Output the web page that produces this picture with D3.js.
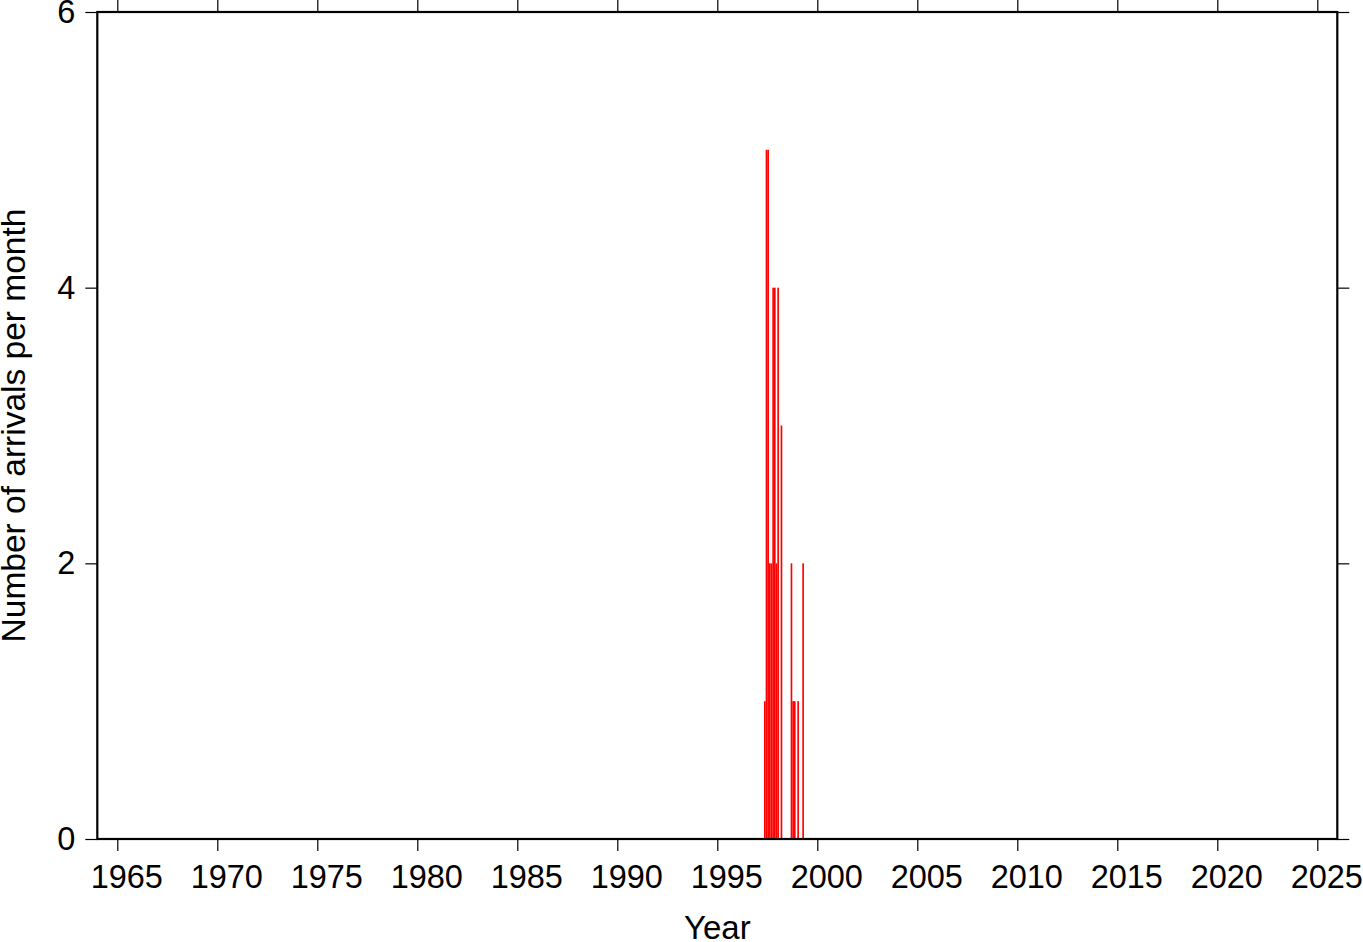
<!DOCTYPE html>
<html>
<head>
<meta charset="utf-8">
<script src="https://cdn.jsdelivr.net/npm/d3@7"></script>
<style>
  html, body { margin: 0; padding: 0; background: #fff; }
  svg { display: block; }
  text { font-family: "Liberation Sans", Arial, Helvetica, sans-serif; fill: #000; }
</style>
</head>
<body>
<svg id="chart" width="1363" height="942"></svg>
<script>
// ---- data ----
const months = ["1997-05","1997-06","1997-07","1997-08","1997-09","1997-10","1997-11","1997-12",
                "1998-01","1998-03","1998-09","1998-10","1998-11","1999-01","1999-04"];
const counts = [1,5,5,2,2,4,4,2,4,3,2,1,1,1,2];
const xTicks = [1965,1970,1975,1980,1985,1990,1995,2000,2005,2010,2015,2020,2025];
const yTicks = [0,2,4,6];
const xLabel = "Year";
const yLabel = "Number of arrivals per month";

// ---- layout ----
const mLeft = 97.3, mRight = 1337.3, mTop = 12, mBottom = 839;
const svg = d3.select("#chart");
const x = d3.scaleLinear().domain([1964, 2026]).range([mLeft, mRight]);
const y = d3.scaleLinear().domain([0, 6]).range([mBottom, mTop]);

const bars = months.map((m, i) => {
  const [yr, mo] = m.split("-").map(Number);
  return { t0: yr + (mo - 1) / 12, t1: yr + mo / 12, v: counts[i] };
});

svg.append("g").selectAll("rect").data(bars).join("rect")
  .attr("x", d => x(d.t0))
  .attr("width", d => x(d.t1) - x(d.t0))
  .attr("y", d => y(d.v))
  .attr("height", d => y(0) - y(d.v))
  .attr("fill", "#ff0000");

const fs = 32.5;
const gb = svg.append("g").attr("transform", `translate(0,${mBottom})`)
  .call(d3.axisBottom(x).tickValues(xTicks).tickFormat(d3.format("d")).tickSize(12).tickPadding(14));
const gt = svg.append("g").attr("transform", `translate(0,${mTop})`)
  .call(d3.axisTop(x).tickValues(xTicks).tickFormat("").tickSize(12));
const gl = svg.append("g").attr("transform", `translate(${mLeft},0)`)
  .call(d3.axisLeft(y).tickValues(yTicks).tickFormat(d3.format("d")).tickSize(12).tickPadding(10));
const gr = svg.append("g").attr("transform", `translate(${mRight},0)`)
  .call(d3.axisRight(y).tickValues(yTicks).tickFormat("").tickSize(12));

[gb, gt, gl, gr].forEach(g => {
  g.select(".domain").remove();
  g.selectAll(".tick line").attr("stroke", "#000").attr("stroke-width", 1.2);
  g.selectAll("text").attr("font-size", fs).attr("font-family", '"Liberation Sans", Arial, sans-serif').attr("fill", "#000");
});
gb.selectAll("text").attr("dx", 9);

svg.append("rect")
  .attr("x", mLeft).attr("y", mTop)
  .attr("width", mRight - mLeft).attr("height", mBottom - mTop)
  .attr("fill", "none").attr("stroke", "#000").attr("stroke-width", 2.2);

svg.append("text")
  .attr("x", (mLeft + mRight) / 2).attr("y", 939)
  .attr("text-anchor", "middle").attr("font-size", 33)
  .text(xLabel);

svg.append("text")
  .attr("transform", `translate(25,${(mTop + mBottom) / 2}) rotate(-90)`)
  .attr("text-anchor", "middle").attr("font-size", 33.5)
  .text(yLabel);
</script>
</body>
</html>
